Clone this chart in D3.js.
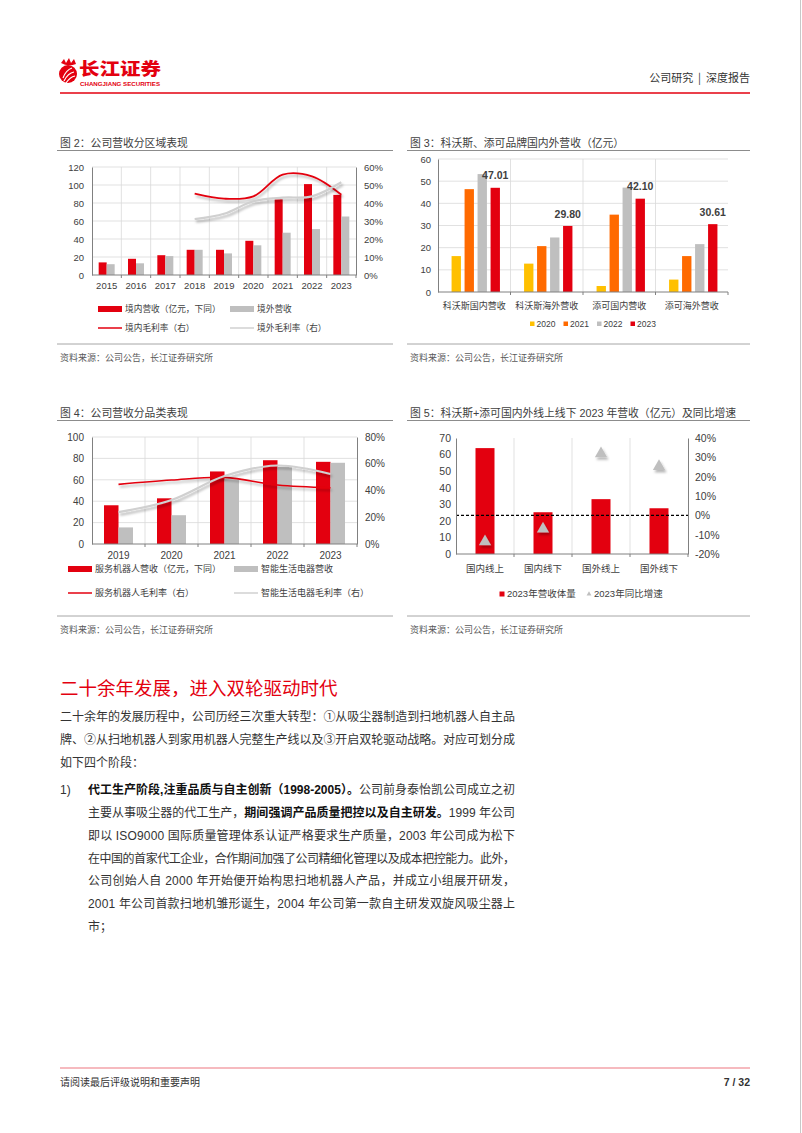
<!DOCTYPE html>
<html>
<head>
<meta charset="utf-8">
<script src="https://cdn.jsdelivr.net/npm/d3@7"></script>
<style>
  body { margin: 0; background: #fff; }
  svg text { font-family: "Liberation Sans", "Noto Sans CJK SC", sans-serif; }
  svg .cjk { font-family: "Noto Sans CJK SC", sans-serif; }
</style>
</head>
<body>
<svg id="page"></svg>
<script>
// ---- 图2 公司营收分区域表现
const years2 = ['2015', '2016', '2017', '2018', '2019', '2020', '2021', '2022', '2023']
const domRev2 = [14, 18, 22, 28, 28, 38, 84, 101, 89]
const ovsRev2 = [12, 13, 21, 28, 24, 33, 47, 51, 65]
const domMargin2 = [null, null, null, 45.2, 42.4, 43.7, 55.8, 54.8, 44.6]
const ovsMargin2 = [null, null, null, 31, 34, 41, 43, 43.7, 51.5]
const leftTicks2 = [0, 20, 40, 60, 80, 100, 120]
const rightTicks2 = [0, 10, 20, 30, 40, 50, 60]
const legend2 = ['境内营收（亿元，下同）', '境外营收', '境内毛利率（右）', '境外毛利率（右）']

// ---- 图3 科沃斯、添可品牌国内外营收
const groups3 = ['科沃斯国内营收', '科沃斯海外营收', '添可国内营收', '添可海外营收']
const years3 = ['2020', '2021', '2022', '2023']
const rev2020 = [16.2, 12.8, 2.7, 5.6]
const rev2021 = [46.4, 20.7, 34.9, 16.2]
const rev2022 = [53.2, 24.6, 47.1, 21.6]
const rev2023 = [47.01, 29.80, 42.10, 30.61]
const ticks3 = [0, 10, 20, 30, 40, 50, 60]

// ---- 图4 公司营收分品类表现
const years4 = ['2019', '2020', '2021', '2022', '2023']
const robotRev4 = [36.2, 42.7, 67.8, 78.3, 76.8]
const applRev4 = [15.5, 26.9, 60.4, 72.1, 75.9]
const robotMargin4 = [44.6, 47.8, 49.8, 44.1, 42.1]
const applMargin4 = [23.8, 32.9, 50.8, 58.7, 52.3]
const leftTicks4 = [0, 20, 40, 60, 80, 100]
const rightTicks4 = [0, 20, 40, 60, 80]
const legend4 = ['服务机器人营收（亿元，下同）', '智能生活电器营收', '服务机器人毛利率（右）', '智能生活电器毛利率（右）']

// ---- 图5 线上线下 2023 年营收及同比
const channels5 = ['国内线上', '国内线下', '国外线上', '国外线下']
const rev5 = [63.9, 25.2, 33.1, 27.6]
const yoy5 = [-13.6, -7.0, 31.9, 25.3]
const leftTicks5 = [0, 10, 20, 30, 40, 50, 60, 70]
const rightTicks5 = [-20, -10, 0, 10, 20, 30, 40]
const legend5 = ['2023年营收体量', '2023年同比增速']

const RED = '#E3000F'
const ORANGE = '#FF6A00'
const YELLOW = '#FFC000'
const GREY = '#BFBFBF'
const GRID = '#D9D9D9'
const AXIS = '#808080'
const TXT = '#404040'

const svg = d3.select('#page').attr('width', 802).attr('height', 1133)

svg.append('rect').attr('width', 802).attr('height', 1133).attr('fill', '#fff')

const defs = svg.append('defs')
defs.append('filter')
  .attr('id', 'shadow')
  .attr('x', '-10%').attr('y', '-40%').attr('width', '130%').attr('height', '200%')
  .append('feDropShadow')
  .attr('dx', 1.5).attr('dy', 2.5).attr('stdDeviation', 1.3)
  .attr('flood-color', '#000').attr('flood-opacity', 0.28)

// page edge
svg.append('line').attr('x1', 800.5).attr('x2', 800.5).attr('y1', 0).attr('y2', 1133)
  .attr('stroke', '#C8C8C8')

// ---------- header
const logo = svg.append('g')
logo.append('circle').attr('cx', 68).attr('cy', 74).attr('r', 9).attr('fill', RED)
logo.append('path')
  .attr('d', 'M63,78 Q66,70 72,68 M64,81 Q68,73 74,72 M66,83 Q70,77 75,76')
  .attr('fill', 'none').attr('stroke', '#fff').attr('stroke-width', 1.2)
logo.append('path')
  .attr('d', 'M61,63 L64,59 L66,63 L69,58 L71,63 L74,59 L76,64 Q68,67 61,63 Z')
  .attr('fill', RED)
logo.append('text').attr('class', 'cjk')
  .attr('x', 79).attr('y', 69.5).attr('dy', '0.35em')
  .attr('font-size', 16.5).attr('font-weight', 900).attr('fill', RED)
  .attr('textLength', 82).attr('lengthAdjust', 'spacingAndGlyphs')
  .text('长江证券')
logo.append('text')
  .attr('x', 80).attr('y', 84.5).attr('dy', '0.35em')
  .attr('font-size', 5).attr('font-weight', 700).attr('fill', RED)
  .attr('textLength', 80).attr('lengthAdjust', 'spacingAndGlyphs')
  .text('CHANGJIANG SECURITIES')

svg.append('text').attr('class', 'cjk')
  .attr('x', 750).attr('y', 78).attr('dy', '0.35em').attr('text-anchor', 'end')
  .attr('font-size', 11).attr('fill', '#333')
  .attr('xml:space', 'preserve')
  .text('公司研究  |  深度报告')
svg.append('line').attr('x1', 60).attr('x2', 750).attr('y1', 93).attr('y2', 93)
  .attr('stroke', RED).attr('stroke-width', 1.5)

// ---------- helpers
function chartTitle (x, y, x2, text) {
  svg.append('text').attr('x', x).attr('y', y).attr('dy', '0.35em')
    .attr('font-size', 10.8).attr('fill', TXT).text(text)
  svg.append('line').attr('x1', x - 3).attr('x2', x2).attr('y1', y + 7.5).attr('y2', y + 7.5)
    .attr('stroke', '#8C8C8C').attr('stroke-width', 1)
}

function sourceNote (x, y, x2) {
  svg.append('line').attr('x1', x - 3).attr('x2', x2).attr('y1', y - 14).attr('y2', y - 14)
    .attr('stroke', '#A6A6A6').attr('stroke-width', 1)
  svg.append('text').attr('class', 'cjk').attr('x', x).attr('y', y).attr('dy', '0.35em')
    .attr('font-size', 9).attr('fill', '#595959')
    .text('资料来源：公司公告，长江证券研究所')
}

function styleAxis (sel, fs) {
  sel.select('.domain').attr('stroke', AXIS).attr('stroke-width', 1)
  sel.selectAll('text').attr('font-size', fs).attr('fill', TXT)
    .style('font-family', '"Liberation Sans", "Noto Sans CJK SC", sans-serif')
}

function legendItem (g, x, y, type, color, label, fs) {
  if (type === 'bar') {
    g.append('rect').attr('x', x).attr('y', y - 3).attr('width', 24).attr('height', 6).attr('fill', color)
  } else {
    g.append('line').attr('x1', x).attr('x2', x + 24).attr('y1', y).attr('y2', y)
      .attr('stroke', color).attr('stroke-width', 1.5)
  }
  g.append('text').attr('class', 'cjk').attr('x', x + 27).attr('y', y).attr('dy', '0.35em')
    .attr('font-size', fs).attr('fill', TXT).text(label)
}

function gridAndFrame (g, x, y, box, hTicks, cats) {
  g.append('g').selectAll('line').data(hTicks.slice(1)).join('line')
    .attr('x1', box.l).attr('x2', box.r)
    .attr('y1', d => y(d)).attr('y2', d => y(d))
    .attr('stroke', GRID).attr('stroke-width', 0.8)
  g.append('g').selectAll('line').data(cats.slice(1)).join('line')
    .attr('x1', d => x(d)).attr('x2', d => x(d))
    .attr('y1', box.t).attr('y2', box.b)
    .attr('stroke', GRID).attr('stroke-width', 0.8)
}

function bottomAxis (g, x, box, cats, labelY, fs, cjk) {
  g.append('line').attr('x1', box.l).attr('x2', box.r).attr('y1', box.b).attr('y2', box.b)
    .attr('stroke', AXIS).attr('stroke-width', 1)
  g.append('g').selectAll('line').data(cats.slice(1).concat(['__end'])).join('line')
    .attr('x1', d => d === '__end' ? box.r : x(d)).attr('x2', d => d === '__end' ? box.r : x(d))
    .attr('y1', box.b).attr('y2', box.b + 3)
    .attr('stroke', AXIS)
  g.append('g').selectAll('text').data(cats).join('text')
    .attr('class', cjk ? 'cjk' : null)
    .attr('x', d => x(d) + x.bandwidth() / 2).attr('y', labelY).attr('dy', '0.35em')
    .attr('text-anchor', 'middle').attr('font-size', fs).attr('fill', TXT)
    .text(d => d)
}

// combo chart: bars on left axis, smoothed margin lines on right axis
function combo (opt) {
  const { cats, bars, lines, yTicks, rTicks, box, barW, fs, labelY, legend, legendX, legendY, legendFs, rFormat } = opt
  const g = svg.append('g')
  const x = d3.scaleBand().domain(cats).range([box.l, box.r])
  const y = d3.scaleLinear().domain(d3.extent(yTicks)).range([box.b, box.t])
  const y2 = d3.scaleLinear().domain(d3.extent(rTicks)).range([box.b, box.t])

  gridAndFrame(g, x, y, box, yTicks, cats)

  const sub = d3.scaleBand().domain(d3.range(bars.length)).range([-barW, barW])
  bars.forEach((s, i) => {
    g.append('g').selectAll('rect').data(s.values).join('rect')
      .attr('x', (d, j) => x(cats[j]) + x.bandwidth() / 2 + sub(i))
      .attr('width', sub.bandwidth())
      .attr('y', d => y(d))
      .attr('height', d => y(0) - y(d))
      .attr('fill', s.color)
  })

  const line = d3.line()
    .defined(d => d.v != null)
    .x(d => x(d.c) + x.bandwidth() / 2)
    .y(d => y2(d.v))
    .curve(d3.curveCatmullRom.alpha(0.5))

  lines.forEach(s => {
    g.append('path')
      .datum(cats.map((c, j) => ({ c, v: s.values[j] })).filter(d => d.v != null))
      .attr('d', line)
      .attr('fill', 'none')
      .attr('stroke', s.color)
      .attr('stroke-width', s.width)
      .attr('filter', 'url(#shadow)')
  })

  const ax = g.append('g').attr('transform', `translate(${box.l},0)`)
    .call(d3.axisLeft(y).tickValues(yTicks).tickSize(0).tickPadding(8))
  styleAxis(ax, fs)
  const ar = g.append('g').attr('transform', `translate(${box.r},0)`)
    .call(d3.axisRight(y2).tickValues(rTicks).tickSize(0).tickPadding(8).tickFormat(rFormat))
  styleAxis(ar, fs)

  bottomAxis(g, x, box, cats, labelY, fs, false)

  legendItem(g, legendX[0], legendY[0], 'bar', bars[0].color, legend[0], legendFs)
  legendItem(g, legendX[1], legendY[0], 'bar', bars[1].color, legend[1], legendFs)
  legendItem(g, legendX[0], legendY[1], 'line', lines[0].color, legend[2], legendFs)
  legendItem(g, legendX[1], legendY[1], 'line', '#D0D0D0', legend[3], legendFs)
}

const pct = d => d + '%'

// ---------- 图2
chartTitle(60, 143, 393, '图 2：公司营收分区域表现')
combo({
  cats: years2,
  bars: [{ values: domRev2, color: RED }, { values: ovsRev2, color: GREY }],
  lines: [{ values: domMargin2, color: RED, width: 1.8 }, { values: ovsMargin2, color: '#D0D0D0', width: 2.2 }],
  yTicks: leftTicks2,
  rTicks: rightTicks2,
  box: { l: 92, r: 356, t: 167, b: 275 },
  barW: 8,
  fs: 9.5,
  labelY: 286,
  legend: legend2,
  legendX: [98, 230],
  legendY: [309, 328],
  legendFs: 8.7,
  rFormat: pct
})
sourceNote(60, 358, 393)

// ---------- 图3
chartTitle(410, 143, 750, '图 3：科沃斯、添可品牌国内外营收（亿元）')
{
  const box = { l: 438, r: 728, t: 159, b: 292 }
  const g = svg.append('g')
  const x = d3.scaleBand().domain(groups3).range([box.l, box.r])
  const y = d3.scaleLinear().domain([0, 60]).range([box.b, box.t])
  const sub = d3.scaleBand().domain(years3).range([-26, 26]).paddingInner(0.28).paddingOuter(0.14)
  const series = [rev2020, rev2021, rev2022, rev2023]
  const colors = [YELLOW, ORANGE, GREY, RED]

  gridAndFrame(g, x, y, box, ticks3, groups3)

  series.forEach((vals, i) => {
    g.append('g').selectAll('rect').data(vals).join('rect')
      .attr('x', (d, j) => x(groups3[j]) + x.bandwidth() / 2 + 1.5 + sub(years3[i]))
      .attr('width', sub.bandwidth())
      .attr('y', d => y(d))
      .attr('height', d => y(0) - y(d))
      .attr('fill', colors[i])
  })

  g.append('g').selectAll('text').data(rev2023).join('text')
    .attr('x', (d, j) => x(groups3[j]) + x.bandwidth() / 2 + 1.5 + sub('2023') + sub.bandwidth() / 2)
    .attr('y', d => y(d) - 12).attr('dy', '0.35em')
    .attr('text-anchor', 'middle')
    .attr('font-size', 10.5).attr('font-weight', 700).attr('fill', TXT)
    .text(d => d.toFixed(2))

  const ax = g.append('g').attr('transform', `translate(${box.l},0)`)
    .call(d3.axisLeft(y).tickValues(ticks3).tickSize(0).tickPadding(7))
  styleAxis(ax, 9.5)
  bottomAxis(g, x, box, groups3, 305.5, 9, true)

  const lx = [530, 563.5, 597, 630.5]
  years3.forEach((yr, i) => {
    g.append('rect').attr('x', lx[i]).attr('y', 321.5).attr('width', 4.5).attr('height', 4.5).attr('fill', colors[i])
    g.append('text').attr('x', lx[i] + 6.5).attr('y', 324).attr('dy', '0.35em')
      .attr('font-size', 8.5).attr('fill', TXT).text(yr)
  })
}
sourceNote(410, 358, 750)

// ---------- 图4
chartTitle(60, 413, 393, '图 4：公司营收分品类表现')
combo({
  cats: years4,
  bars: [{ values: robotRev4, color: RED }, { values: applRev4, color: GREY }],
  lines: [{ values: robotMargin4, color: RED, width: 1.6 }, { values: applMargin4, color: '#D0D0D0', width: 2.2 }],
  yTicks: leftTicks4,
  rTicks: rightTicks4,
  box: { l: 92, r: 357, t: 437, b: 544 },
  barW: 14.5,
  fs: 10,
  labelY: 555,
  legend: legend4,
  legendX: [68, 234],
  legendY: [569, 593],
  legendFs: 9,
  rFormat: pct
})
sourceNote(60, 630, 393)

// ---------- 图5
chartTitle(410, 413, 750, '图 5：科沃斯+添可国内外线上线下 2023 年营收（亿元）及同比增速')
{
  const box = { l: 456, r: 688, t: 438, b: 554 }
  const g = svg.append('g')
  const x = d3.scaleBand().domain(channels5).range([box.l, box.r])
  const y = d3.scaleLinear().domain([0, 70]).range([box.b, box.t])
  const y2 = d3.scaleLinear().domain([-20, 40]).range([box.b, box.t])
  const barW = 19

  gridAndFrame(g, x, y, box, [0], channels5)

  g.append('g').selectAll('rect').data(rev5).join('rect')
    .attr('x', (d, j) => x(channels5[j]) + x.bandwidth() / 2 - barW / 2)
    .attr('width', barW)
    .attr('y', d => y(d))
    .attr('height', d => y(0) - y(d))
    .attr('fill', RED)

  g.append('line').attr('x1', box.l).attr('x2', box.r).attr('y1', y2(0)).attr('y2', y2(0))
    .attr('stroke', '#000').attr('stroke-width', 1.1).attr('stroke-dasharray', '3,2')

  g.append('g').selectAll('path').data(yoy5).join('path')
    .attr('d', d3.symbol(d3.symbolTriangle, 65))
    .attr('transform', (d, j) => `translate(${x(channels5[j]) + x.bandwidth() / 2},${y2(d)})`)
    .attr('fill', GREY)
    .attr('filter', 'url(#shadow)')

  const ax = g.append('g').attr('transform', `translate(${box.l},0)`)
    .call(d3.axisLeft(y).tickValues(leftTicks5).tickSize(0).tickPadding(5))
  styleAxis(ax, 10.5)
  const ar = g.append('g').attr('transform', `translate(${box.r},0)`)
    .call(d3.axisRight(y2).tickValues(rightTicks5).tickSize(0).tickPadding(7).tickFormat(pct))
  styleAxis(ar, 10.5)
  bottomAxis(g, x, box, channels5, 569, 9.5, true)

  g.append('rect').attr('x', 499.5).attr('y', 591.5).attr('width', 5).attr('height', 5).attr('fill', RED)
  g.append('text').attr('x', 507).attr('y', 594).attr('dy', '0.35em')
    .attr('font-size', 9.5).attr('fill', TXT).text(legend5[0])
  g.append('path').attr('d', d3.symbol(d3.symbolTriangle, 10)).attr('transform', 'translate(589,594)').attr('fill', GREY)
  g.append('text').attr('x', 594).attr('y', 594).attr('dy', '0.35em')
    .attr('font-size', 9.5).attr('fill', TXT).text(legend5[1])
}
sourceNote(410, 630, 750)

// ---------- body text
const heading = '二十余年发展，进入双轮驱动时代'
const para1 = [
  '二十余年的发展历程中，公司历经三次重大转型：①从吸尘器制造到扫地机器人自主品',
  '牌、②从扫地机器人到家用机器人完整生产线以及③开启双轮驱动战略。对应可划分成',
  '如下四个阶段：'
]
const item1 = [
  [['代工生产阶段,注重品质与自主创新（1998-2005）。', true], ['公司前身泰怡凯公司成立之初', false]],
  [['主要从事吸尘器的代工生产，', false], ['期间强调产品质量把控以及自主研发。', true], ['1999 年公司', false]],
  [['即以 ISO9000 国际质量管理体系认证严格要求生产质量，2003 年公司成为松下', false]],
  [['在中国的首家代工企业，合作期间加强了公司精细化管理以及成本把控能力。此外，', false]],
  [['公司创始人自 2000 年开始便开始构思扫地机器人产品，并成立小组展开研发，', false]],
  [['2001 年公司首款扫地机雏形诞生，2004 年公司第一款自主研发双旋风吸尘器上', false]],
  [['市；', false]]
]

svg.append('text').attr('class', 'cjk')
  .attr('x', 60).attr('y', 689).attr('dy', '0.35em')
  .attr('font-size', 18.5).attr('fill', RED)
  .text(heading)

function bodyLine (x, y, segs, width) {
  const t = svg.append('text').attr('x', x).attr('y', y).attr('dy', '0.35em')
    .attr('font-size', 12).attr('fill', '#333')
  if (width) t.attr('textLength', width).attr('lengthAdjust', 'spacing')
  segs.forEach(([s, b]) => {
    t.append('tspan').attr('font-weight', b ? 700 : 400).attr('fill', b ? '#111' : '#333').text(s)
  })
}

para1.forEach((s, i) => {
  bodyLine(60, 717 + i * 23, [[s, false]], i < para1.length - 1 ? 455 : null)
})

svg.append('text').attr('x', 60).attr('y', 790).attr('dy', '0.35em')
  .attr('font-size', 12).attr('fill', '#333').text('1)')
item1.forEach((segs, i) => {
  bodyLine(88, 790 + i * 22.8, segs, i < item1.length - 1 ? 427 : null)
})

// ---------- footer
svg.append('line').attr('x1', 60).attr('x2', 750).attr('y1', 1068).attr('y2', 1068)
  .attr('stroke', '#F3A3AA').attr('stroke-width', 1.5)
svg.append('text').attr('class', 'cjk')
  .attr('x', 60).attr('y', 1082).attr('dy', '0.35em')
  .attr('font-size', 10).attr('fill', '#333')
  .text('请阅读最后评级说明和重要声明')
svg.append('text')
  .attr('x', 750).attr('y', 1082).attr('dy', '0.35em').attr('text-anchor', 'end')
  .attr('font-size', 10.5).attr('font-weight', 700).attr('fill', '#333')
  .text('7 / 32')
</script>
</body>
</html>
